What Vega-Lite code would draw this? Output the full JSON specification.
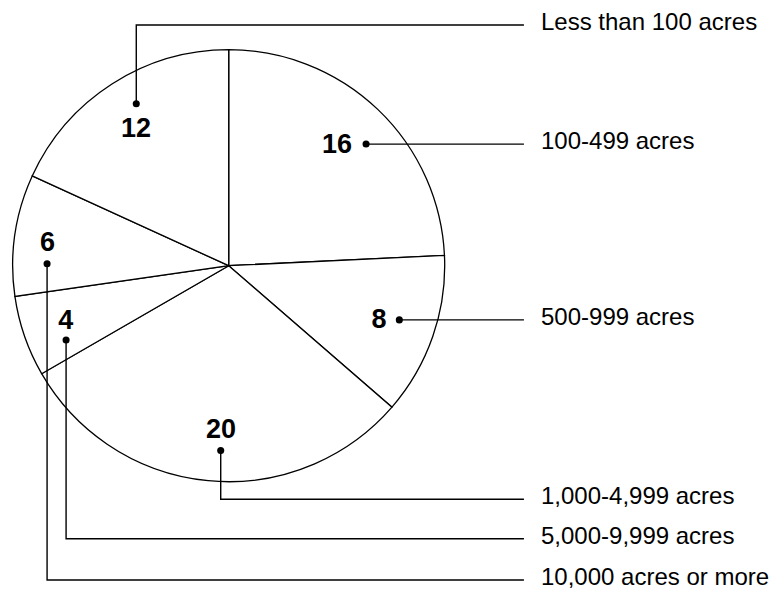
{
  "$schema": "https://vega.github.io/schema/vega-lite/v6.json",
  "width": 771,
  "height": 591,
  "padding": 0,
  "autosize": {"type": "none"},
  "background": "white",
  "config": {"view": {"stroke": null}},
  "datasets": {
    "slices": [
      {"category": "100-499 acres", "farms": 16, "ord": 1},
      {"category": "500-999 acres", "farms": 8, "ord": 2},
      {"category": "1,000-4,999 acres", "farms": 20, "ord": 3},
      {"category": "5,000-9,999 acres", "farms": 4, "ord": 4},
      {"category": "10,000 acres or more", "farms": 6, "ord": 5},
      {"category": "Less than 100 acres", "farms": 12, "ord": 6}
    ],
    "leaders": [
      {"category": "Less than 100 acres", "step": 1, "lx": -42.8, "ly": 75.0},
      {"category": "Less than 100 acres", "step": 2, "lx": -42.8, "ly": 111.4},
      {"category": "Less than 100 acres", "step": 3, "lx": 136.7, "ly": 111.4},
      {"category": "100-499 acres", "step": 1, "lx": 63.6, "ly": 56.3},
      {"category": "100-499 acres", "step": 2, "lx": 136.7, "ly": 56.3},
      {"category": "500-999 acres", "step": 1, "lx": 79.0, "ly": -25.1},
      {"category": "500-999 acres", "step": 2, "lx": 136.7, "ly": -25.1},
      {"category": "1,000-4,999 acres", "step": 1, "lx": -3.7, "ly": -85.6},
      {"category": "1,000-4,999 acres", "step": 2, "lx": -3.7, "ly": -108.1},
      {"category": "1,000-4,999 acres", "step": 3, "lx": 136.7, "ly": -108.1},
      {"category": "5,000-9,999 acres", "step": 1, "lx": -75.3, "ly": -34.4},
      {"category": "5,000-9,999 acres", "step": 2, "lx": -75.3, "ly": -126.4},
      {"category": "5,000-9,999 acres", "step": 3, "lx": 136.7, "ly": -126.4},
      {"category": "10,000 acres or more", "step": 1, "lx": -84.1, "ly": 0.9},
      {"category": "10,000 acres or more", "step": 2, "lx": -84.1, "ly": -145.5},
      {"category": "10,000 acres or more", "step": 3, "lx": 136.7, "ly": -145.5}
    ],
    "annotations": [
      {"category": "Less than 100 acres", "farms": 12, "dx": -42.8, "dy": 75.0, "nx": -42.9, "ny": 63.3, "tx": 144.6, "ty": 111.4},
      {"category": "100-499 acres", "farms": 16, "dx": 63.6, "dy": 56.3, "nx": 50.1, "ny": 55.9, "tx": 144.6, "ty": 56.3},
      {"category": "500-999 acres", "farms": 8, "dx": 79.0, "dy": -25.1, "nx": 69.6, "ny": -25.3, "tx": 144.6, "ty": -25.1},
      {"category": "1,000-4,999 acres", "farms": 20, "dx": -3.7, "dy": -85.6, "nx": -3.6, "ny": -75.9, "tx": 144.6, "ty": -108.1},
      {"category": "5,000-9,999 acres", "farms": 4, "dx": -75.3, "dy": -34.4, "nx": -75.5, "ny": -25.7, "tx": 144.6, "ty": -126.4},
      {"category": "10,000 acres or more", "farms": 6, "dx": -84.1, "dy": 0.9, "nx": -83.9, "ny": 10.5, "tx": 144.6, "ty": -145.5}
    ]
  },
  "layer": [
    {
      "data": {"name": "slices"},
      "mark": {"type": "arc", "outerRadius": 216, "fill": "white", "stroke": "black", "strokeWidth": 1.3},
      "encoding": {
        "theta": {"field": "farms", "type": "quantitative", "stack": true},
        "order": {"field": "ord", "type": "quantitative"},
        "x": {"datum": 0, "type": "quantitative", "scale": {"domain": [-105.9, 251.1], "nice": false, "zero": false}, "axis": null},
        "y": {"datum": 0, "type": "quantitative", "scale": {"domain": [-150.6, 123.0], "nice": false, "zero": false}, "axis": null}
      }
    },
    {
      "data": {"name": "leaders"},
      "mark": {"type": "line", "stroke": "black", "strokeWidth": 1.4},
      "encoding": {
        "x": {"field": "lx", "type": "quantitative", "scale": {"domain": [-105.9, 251.1], "nice": false, "zero": false}, "axis": null},
        "y": {"field": "ly", "type": "quantitative", "scale": {"domain": [-150.6, 123.0], "nice": false, "zero": false}, "axis": null},
        "detail": {"field": "category"},
        "order": {"field": "step", "type": "quantitative"}
      }
    },
    {
      "data": {"name": "annotations"},
      "mark": {"type": "circle", "size": 50, "color": "black", "opacity": 1},
      "encoding": {
        "x": {"field": "dx", "type": "quantitative", "scale": {"domain": [-105.9, 251.1], "nice": false, "zero": false}, "axis": null},
        "y": {"field": "dy", "type": "quantitative", "scale": {"domain": [-150.6, 123.0], "nice": false, "zero": false}, "axis": null}
      }
    },
    {
      "data": {"name": "annotations"},
      "mark": {"type": "text", "font": "Liberation Sans", "fontSize": 27, "fontWeight": "bold", "color": "black", "align": "center", "baseline": "middle"},
      "encoding": {
        "x": {"field": "nx", "type": "quantitative", "scale": {"domain": [-105.9, 251.1], "nice": false, "zero": false}, "axis": null},
        "y": {"field": "ny", "type": "quantitative", "scale": {"domain": [-150.6, 123.0], "nice": false, "zero": false}, "axis": null},
        "text": {"field": "farms"}
      }
    },
    {
      "data": {"name": "annotations"},
      "mark": {"type": "text", "font": "Liberation Sans", "fontSize": 24, "color": "black", "align": "left", "baseline": "middle", "dy": -2},
      "encoding": {
        "x": {"field": "tx", "type": "quantitative", "scale": {"domain": [-105.9, 251.1], "nice": false, "zero": false}, "axis": null},
        "y": {"field": "ty", "type": "quantitative", "scale": {"domain": [-150.6, 123.0], "nice": false, "zero": false}, "axis": null},
        "text": {"field": "category"}
      }
    }
  ]
}
